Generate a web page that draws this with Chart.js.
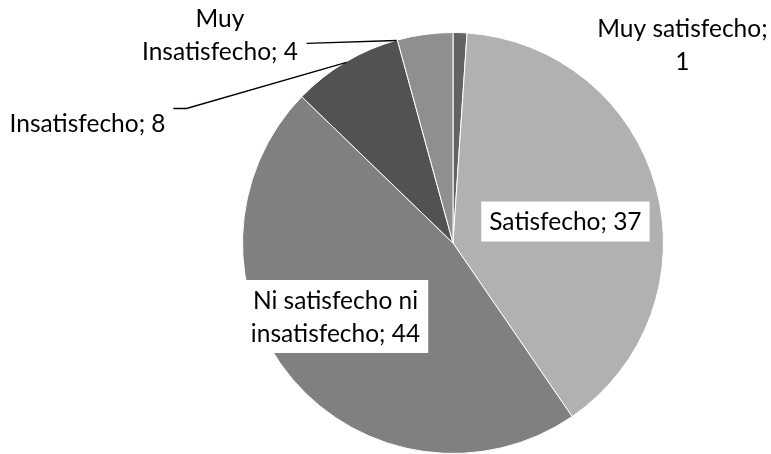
<!DOCTYPE html>
<html lang="es">
<head>
    <meta charset="UTF-8">
    <title>Satisfacción</title>
    <script src="https://cdn.jsdelivr.net/npm/chart.js"></script>
    <style>
        body { margin: 0; background: #fff; }
        #wrap { width: 771px; height: 454px; position: relative; }
    </style>
</head>
<body>
    <div id="wrap"><canvas id="pieChart"></canvas></div>

    <script>
        // datos
        const categories = ['Muy satisfecho', 'Satisfecho', 'Ni satisfecho ni insatisfecho', 'Insatisfecho', 'Muy Insatisfecho'];
        const values = [1, 37, 44, 8, 4];
        const colors = ['#636363', '#b1b1b1', '#808080', '#525252', '#8f8f8f'];

        // posición de etiquetas, en unidades del radio respecto al centro
        const labelLayout = [
            { dx: 1.090, dy: -0.941, breakAfter: 2, box: false },
            { dx: 0.534, dy: -0.102, breakAfter: 0, box: true },
            { dx: -0.558, dy: 0.349, breakAfter: 3, box: true },
            { dx: -1.736, dy: -0.570, breakAfter: 0, box: false,
              leader: [[-0.506, -0.858], [-1.266, -0.639], [-1.328, -0.639]] },
            { dx: -1.107, dy: -0.988, breakAfter: 1, box: false,
              leader: [[-0.268, -0.962], [-0.696, -0.948]] }
        ];

        const FONT_SIZE = 24.5;
        const LINE_H = 33;

        const labelPlugin = {
            id: 'pieLabels',
            afterDatasetsDraw(chart) {
                const arc = chart.getDatasetMeta(0).data[0];
                const { x: cx, y: cy, outerRadius: r } = arc.getProps(['x', 'y', 'outerRadius'], true);
                const ctx = chart.ctx;
                ctx.save();
                ctx.font = FONT_SIZE + 'px Lato, "Open Sans", sans-serif';
                ctx.textAlign = 'center';
                ctx.textBaseline = 'alphabetic';
                const cap = FONT_SIZE * 0.36;

                labelLayout.forEach((lay, i) => {
                    const words = (categories[i] + '; ' + values[i]).split(' ');
                    const lines = lay.breakAfter
                        ? [words.slice(0, lay.breakAfter).join(' '), words.slice(lay.breakAfter).join(' ')]
                        : [words.join(' ')];
                    const tx = cx + lay.dx * r;
                    const ty = cy + lay.dy * r;

                    if (lay.leader) {
                        ctx.strokeStyle = '#000';
                        ctx.lineWidth = 1.3;
                        ctx.beginPath();
                        lay.leader.forEach((p, k) => {
                            const px = cx + p[0] * r, py = cy + p[1] * r;
                            if (k === 0) ctx.moveTo(px, py); else ctx.lineTo(px, py);
                        });
                        ctx.stroke();
                    }

                    if (lay.box) {
                        const w = Math.max(...lines.map(l => ctx.measureText(l).width)) + 16;
                        const h = (lines.length - 1) * LINE_H + 40;
                        ctx.fillStyle = '#fff';
                        ctx.fillRect(tx - w / 2, ty - h / 2, w, h);
                    }

                    ctx.fillStyle = '#000';
                    lines.forEach((l, k) => {
                        const by = ty + (k - (lines.length - 1) / 2) * LINE_H + cap;
                        ctx.fillText(l, tx, by);
                    });
                });
                ctx.restore();
            }
        };

        new Chart(document.getElementById('pieChart'), {
            type: 'pie',
            data: {
                labels: categories,
                datasets: [{
                    data: values,
                    backgroundColor: colors,
                    borderColor: '#ffffff',
                    borderWidth: 1
                }]
            },
            options: {
                responsive: true,
                maintainAspectRatio: false,
                animation: false,
                layout: { padding: { left: 242, right: 107, top: 32, bottom: 0 } },
                plugins: {
                    legend: { display: false },
                    tooltip: { enabled: false }
                }
            },
            plugins: [labelPlugin]
        });
    </script>
</body>
</html>
